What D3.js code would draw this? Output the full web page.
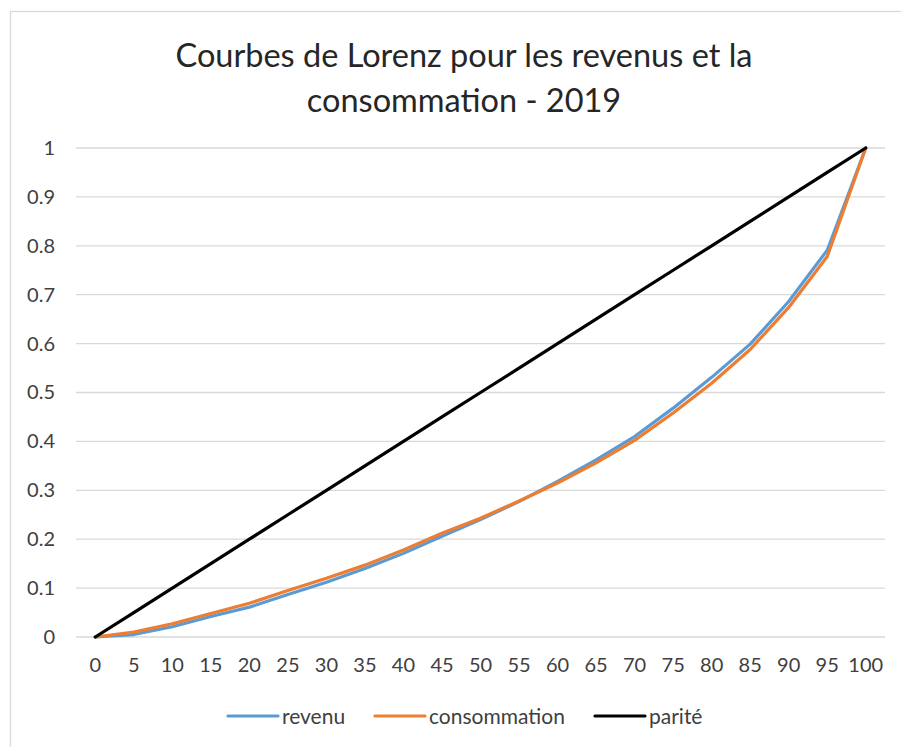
<!DOCTYPE html>
<html>
<head>
<meta charset="UTF-8">
<title>Courbes de Lorenz</title>
<style>
  body { margin: 0; background: #fff; font-family: 'Lato', 'Open Sans', sans-serif; }
  .axis path, .axis line { display: none; }
  .axis text { font-size: 20px; fill: #404040; font-family: 'Lato', sans-serif; }
  .grid line { stroke: #d9d9d9; stroke-width: 1.3; }
  .legend text { font-size: 21px; fill: #404040; }
</style>
</head>
<body>
<script src="https://cdn.jsdelivr.net/npm/d3@7"></script>
<script>
// population share (percent)
const categories = [0, 5, 10, 15, 20, 25, 30, 35, 40, 45, 50, 55, 60, 65, 70, 75, 80, 85, 90, 95, 100];

const revenu = [0, 0.005, 0.021, 0.042, 0.061, 0.087, 0.112, 0.140, 0.171, 0.206, 0.240,
                0.277, 0.318, 0.362, 0.410, 0.468, 0.531, 0.599, 0.686, 0.791, 1];
const consommation = [0, 0.010, 0.027, 0.048, 0.069, 0.095, 0.120, 0.147, 0.178, 0.212, 0.243,
                      0.278, 0.315, 0.356, 0.402, 0.458, 0.519, 0.588, 0.674, 0.778, 1];
const parite = [0, 0.05, 0.1, 0.15, 0.2, 0.25, 0.3, 0.35, 0.4, 0.45, 0.5,
                0.55, 0.6, 0.65, 0.7, 0.75, 0.8, 0.85, 0.9, 0.95, 1];

const yTicks = [0, 0.1, 0.2, 0.3, 0.4, 0.5, 0.6, 0.7, 0.8, 0.9, 1];

const series = [
  { name: 'revenu', values: revenu, color: '#5b9bd5' },
  { name: 'consommation', values: consommation, color: '#ed7d31' },
  { name: 'parité', values: parite, color: '#000000' }
];

const W = 901, H = 747;
const plot = { left: 76, right: 885, top: 148, bottom: 637 };

const svg = d3.select('body').append('svg')
  .attr('width', W)
  .attr('height', H);

// chart frame
svg.append('rect')
  .attr('x', 10.5).attr('y', 11.5)
  .attr('width', W).attr('height', H)
  .attr('fill', 'none')
  .attr('stroke', '#d9d9d9')
  .attr('stroke-width', 1.3);

// title
const title = svg.append('text')
  .attr('text-anchor', 'middle')
  .attr('font-size', 32.5)
  .attr('fill', '#262626');
title.append('tspan').attr('x', 464).attr('y', 67).text('Courbes de Lorenz pour les revenus et la');
title.append('tspan').attr('x', 464).attr('y', 112).text('consommation - 2019');

const x = d3.scaleBand()
  .domain(categories)
  .range([plot.left, plot.right]);

const y = d3.scaleLinear()
  .domain([0, 1])
  .range([plot.bottom, plot.top]);

const cx = d => x(d) + x.bandwidth() / 2;

// gridlines
svg.append('g').attr('class', 'grid')
  .selectAll('line')
  .data(yTicks)
  .join('line')
  .attr('x1', plot.left).attr('x2', plot.right)
  .attr('y1', d => y(d)).attr('y2', d => y(d));

// axes
svg.append('g')
  .attr('class', 'axis axis--y')
  .attr('transform', `translate(${plot.left - 15},0)`)
  .call(d3.axisLeft(y).tickValues(yTicks).tickSize(0).tickPadding(6).tickFormat(d => String(d)));

svg.append('g')
  .attr('class', 'axis axis--x')
  .attr('transform', `translate(0,${plot.bottom + 12})`)
  .call(d3.axisBottom(x).tickSize(0).tickPadding(9));

// lines
const line = d3.line()
  .x((d, i) => cx(categories[i]))
  .y(d => y(d));

svg.append('g')
  .selectAll('path')
  .data(series)
  .join('path')
  .attr('d', d => line(d.values))
  .attr('fill', 'none')
  .attr('stroke', d => d.color)
  .attr('stroke-width', 3.2)
  .attr('stroke-linejoin', 'round')
  .attr('stroke-linecap', 'round');

// legend
const legendX = [228, 375, 595];
const legend = svg.append('g').attr('class', 'legend')
  .attr('transform', 'translate(0,716)');

const item = legend.selectAll('g')
  .data(series)
  .join('g')
  .attr('transform', (d, i) => `translate(${legendX[i]},0)`);

item.append('line')
  .attr('x1', 0).attr('x2', 50)
  .attr('y1', 0).attr('y2', 0)
  .attr('stroke', d => d.color)
  .attr('stroke-width', 3.2)
  .attr('stroke-linecap', 'round');

item.append('text')
  .attr('x', 54)
  .attr('y', 8)
  .text(d => d.name);
</script>
</body>
</html>
